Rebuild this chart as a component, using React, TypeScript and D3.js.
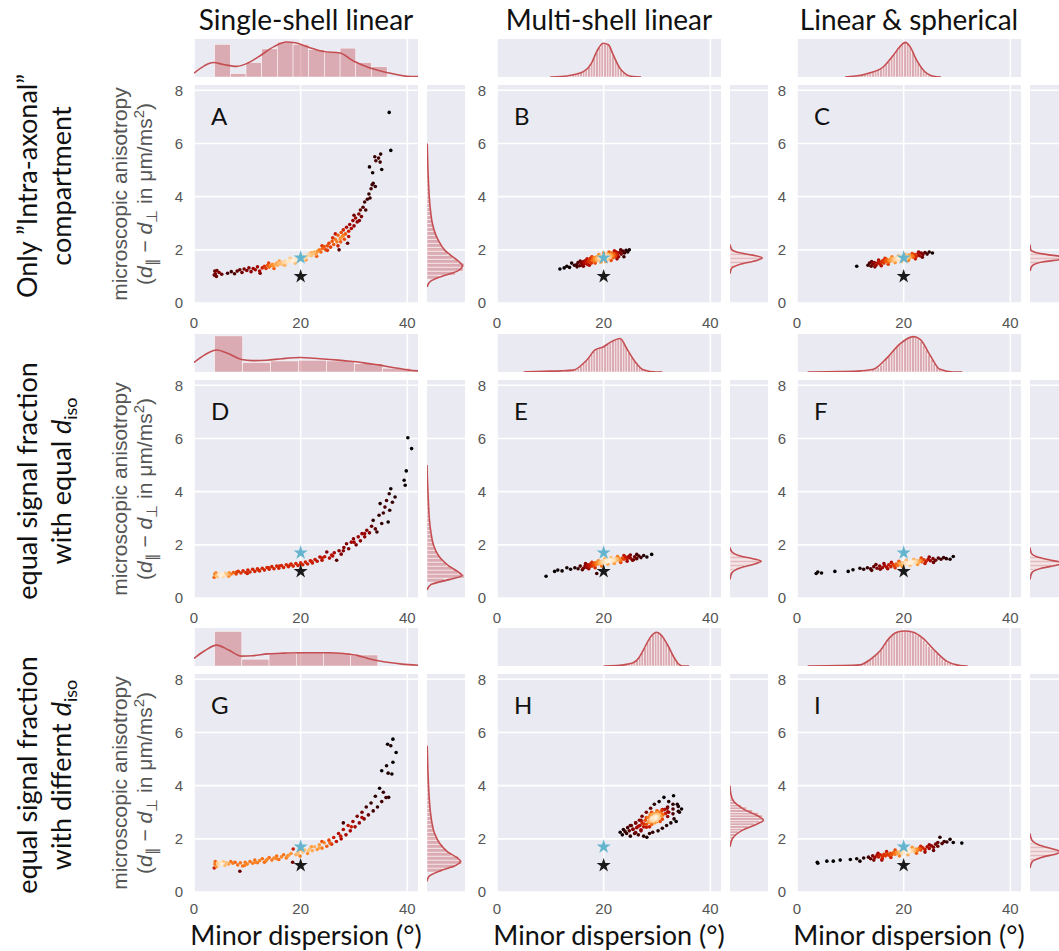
import React, { useRef, useEffect } from "react";
import * as d3 from "d3";

const colTitles = ["Single-shell linear", "Multi-shell linear", "Linear & spherical"];
const panelLetters = ["A", "B", "C", "D", "E", "F", "G", "H", "I"];
const xTicks = [0, 20, 40];
const yTicks = [0, 2, 4, 6, 8];
const blueStar = [20, 1.7];
const blackStar = [20, 1.0];

// scatter clouds (minor dispersion in deg, microscopic anisotropy)
const scatterA = [
  [3.8, 1.05], [3.9, 1.2], [4.0, 1.1], [4.2, 1.0], [4.3, 1.22], [4.7, 1.15], [5.2, 1.08],
  [6.3, 1.12], [7.0, 1.18], [7.6, 1.1], [8.1, 1.2], [8.6, 1.25], [9.0, 1.15], [9.4, 1.28], [9.9, 1.22],
  [10.3, 1.32], [10.7, 1.18], [11.1, 1.3], [11.5, 1.25], [11.9, 1.36], [12.3, 1.2], [12.4, 1.12], [12.8, 1.32],
  [13.2, 1.38], [13.5, 1.3], [13.8, 1.42], [14.1, 1.35], [14.4, 1.4], [14.7, 1.46], [14.9, 1.38], [15.2, 1.44],
  [15.5, 1.5], [15.7, 1.42], [16.0, 1.48], [16.3, 1.54], [16.5, 1.45], [16.8, 1.52], [17.1, 1.58], [17.3, 1.5],
  [17.6, 1.56], [17.9, 1.62], [18.2, 1.55], [18.5, 1.6], [18.8, 1.66], [19.0, 1.58], [19.3, 1.64], [19.6, 1.7],
  [19.9, 1.62], [20.2, 1.7], [20.5, 1.76], [20.8, 1.68], [21.1, 1.74], [21.4, 1.8], [21.7, 1.86], [22.0, 1.78],
  [22.3, 1.85], [22.6, 1.92], [22.9, 1.84], [23.2, 1.95], [23.5, 2.0], [23.8, 1.92], [24.1, 2.05], [24.4, 2.12],
  [24.7, 2.0], [25.0, 2.15], [25.3, 2.25], [25.6, 2.1], [25.9, 2.32], [26.2, 2.2], [26.5, 2.4], [26.8, 2.3],
  [27.0, 2.55], [27.2, 2.0], [27.4, 2.42], [27.6, 2.65], [27.8, 2.5], [28.0, 2.75], [28.2, 2.4], [28.4, 2.6],
  [28.6, 2.85], [28.8, 2.25], [29.0, 2.7], [29.2, 2.95], [29.5, 2.8], [29.8, 3.1], [30.0, 2.9], [30.3, 3.2],
  [30.6, 3.05], [30.9, 3.35], [31.2, 3.5], [31.4, 3.25], [31.7, 3.6], [32.0, 3.8], [32.2, 3.5], [32.5, 3.9],
  [32.8, 4.1], [33.0, 3.95], [33.2, 4.3], [33.4, 4.45], [33.6, 4.5], [34.0, 4.38], [32.9, 5.12], [33.5, 4.9],
  [33.9, 5.5], [34.1, 5.35], [34.6, 5.45], [34.9, 5.3], [35.2, 5.02], [35.0, 5.6], [36.9, 5.74], [36.6, 7.17],
  [14.0, 1.5], [15.0, 1.3], [16.0, 1.58], [17.0, 1.42], [18.0, 1.68], [19.0, 1.5], [20.0, 1.78], [21.0, 1.62],
  [22.0, 1.9], [23.0, 1.76], [24.0, 2.15], [25.0, 1.98], [26.0, 2.45], [27.0, 2.15], [28.0, 2.55], [29.0, 2.5],
  [30.0, 3.3], [31.0, 3.1], [26.5, 2.6], [27.5, 2.3], [17.5, 1.55], [18.5, 1.58], [19.5, 1.65], [20.5, 1.72],
  [21.5, 1.8], [22.5, 1.88],
];
const scatterB = [
  [11.8, 1.28], [12.6, 1.32], [13.1, 1.38], [13.6, 1.34], [14.0, 1.5], [14.5, 1.42], [14.9, 1.44], [15.2, 1.52],
  [15.5, 1.4], [15.8, 1.5], [16.0, 1.42], [16.2, 1.56], [16.4, 1.48], [16.6, 1.6], [16.8, 1.52], [17.0, 1.45],
  [17.2, 1.62], [17.4, 1.55], [17.5, 1.68], [17.7, 1.5], [17.9, 1.6], [18.0, 1.7], [18.2, 1.56], [18.3, 1.64],
  [18.5, 1.72], [18.6, 1.6], [18.8, 1.68], [18.9, 1.76], [19.0, 1.62], [19.2, 1.7], [19.3, 1.66], [19.4, 1.78],
  [19.5, 1.6], [19.6, 1.72], [19.7, 1.68], [19.8, 1.75], [19.9, 1.64], [20.0, 1.7], [20.1, 1.8], [20.2, 1.68],
  [20.3, 1.74], [20.4, 1.62], [20.5, 1.78], [20.6, 1.72], [20.7, 1.84], [20.8, 1.7], [20.9, 1.77], [21.0, 1.66],
  [21.2, 1.82], [21.3, 1.74], [21.5, 1.88], [21.6, 1.78], [21.8, 1.7], [22.0, 1.85], [22.2, 1.76], [22.4, 1.92],
  [22.6, 1.82], [22.8, 1.74], [23.0, 1.9], [23.3, 1.84], [23.6, 1.95], [23.9, 1.88], [24.2, 1.98], [24.5, 1.92],
  [24.8, 2.0],
  [15.0, 1.36], [15.6, 1.58], [16.2, 1.38], [16.9, 1.66], [17.3, 1.42], [17.8, 1.74], [18.4, 1.5], [19.1, 1.82],
  [19.5, 1.54], [20.0, 1.88], [20.4, 1.56], [21.0, 1.92], [21.4, 1.6], [22.0, 1.96], [22.5, 1.66], [23.2, 2.0],
  [23.8, 1.74], [16.5, 1.5], [17.1, 1.56], [17.9, 1.62], [18.7, 1.66], [19.1, 1.68], [19.5, 1.7], [19.9, 1.72],
  [20.3, 1.72], [20.7, 1.76], [21.1, 1.76], [21.5, 1.8], [21.9, 1.8], [22.3, 1.84], [18.3, 1.7], [20.5, 1.7],
  [19.6, 1.64], [21.1, 1.72],
];
const scatterC = [
  [11.2, 1.38], [13.3, 1.42], [13.6, 1.5], [13.9, 1.38], [14.2, 1.46], [14.5, 1.52], [14.8, 1.42], [15.1, 1.5],
  [15.4, 1.56], [15.6, 1.46], [15.9, 1.54], [16.1, 1.6], [16.3, 1.5], [16.6, 1.58], [16.8, 1.64], [17.0, 1.54],
  [17.2, 1.62], [17.4, 1.56], [17.6, 1.66], [17.8, 1.6], [18.0, 1.68], [18.2, 1.58], [18.4, 1.64], [18.6, 1.7],
  [18.8, 1.62], [19.0, 1.68], [19.2, 1.74], [19.4, 1.64], [19.6, 1.7], [19.8, 1.66], [20.0, 1.74], [20.2, 1.68],
  [20.4, 1.76], [20.6, 1.66], [20.8, 1.72], [21.0, 1.8], [21.2, 1.7], [21.5, 1.78], [21.8, 1.72], [22.1, 1.82],
  [22.4, 1.76], [22.7, 1.86], [23.0, 1.78], [23.3, 1.88], [23.6, 1.82], [24.0, 1.9], [24.4, 1.84], [24.8, 1.92],
  [25.4, 1.88],
  [14.0, 1.56], [14.6, 1.36], [15.3, 1.62], [15.8, 1.4], [16.5, 1.68], [17.1, 1.46], [17.8, 1.74], [18.4, 1.52],
  [19.0, 1.78], [19.6, 1.56], [20.3, 1.82], [20.9, 1.6], [21.6, 1.86], [22.2, 1.66], [22.8, 1.92], [23.5, 1.72],
  [17.5, 1.6], [18.1, 1.62], [18.7, 1.66], [19.3, 1.68], [19.9, 1.7], [20.5, 1.72], [21.1, 1.74], [21.7, 1.76],
  [19.5, 1.72], [20.1, 1.64], [18.9, 1.7], [20.7, 1.76],
];
const scatterD = [
  [3.8, 0.78], [3.9, 0.9], [4.0, 0.82], [4.1, 0.95], [4.2, 0.85], [4.4, 0.8], [4.6, 0.88], [4.8, 0.92],
  [5.0, 0.84], [5.3, 0.9], [5.6, 0.86], [5.9, 0.93], [6.2, 0.88], [6.6, 0.95], [7.0, 0.9],
  [7.4, 0.96], [7.9, 0.9], [8.3, 1.0], [8.8, 0.94], [9.2, 1.02], [9.7, 0.96], [10.1, 1.05], [10.5, 0.98],
  [11.0, 1.08], [11.4, 1.0], [11.9, 1.1], [12.3, 1.02], [12.8, 1.12], [13.2, 1.05], [13.7, 1.15], [14.1, 1.08],
  [14.6, 1.18], [15.0, 1.1], [15.5, 1.2], [15.9, 1.12], [16.4, 1.22], [16.8, 1.15], [17.3, 1.25], [17.7, 1.18],
  [18.2, 1.28], [18.6, 1.2], [19.1, 1.3], [19.5, 1.22], [20.0, 1.32], [20.4, 1.25], [20.9, 1.35], [21.3, 1.28],
  [21.8, 1.4], [22.2, 1.32], [22.7, 1.45], [23.1, 1.38], [23.6, 1.54], [24.0, 1.42], [24.5, 1.55], [24.9, 1.73],
  [25.4, 1.5], [25.8, 1.62], [26.3, 1.7], [26.75, 1.42], [27.2, 1.78], [27.6, 1.65], [28.1, 1.9], [28.6, 2.04],
  [29.0, 1.85], [29.5, 2.1], [29.9, 2.23], [30.4, 2.0], [30.8, 2.3], [31.2, 2.15], [31.5, 2.42], [32.0, 2.3],
  [32.4, 2.55], [32.9, 2.45], [33.3, 2.7], [33.6, 2.92], [34.0, 2.6], [34.3, 2.48], [34.7, 3.11], [35.2, 2.8],
  [34.9, 3.55], [35.5, 3.2], [35.8, 3.42], [36.1, 3.67], [36.4, 2.86], [36.7, 3.3], [36.6, 3.92], [36.9, 4.11],
  [37.7, 3.8], [37.2, 3.6], [39.4, 4.43], [39.6, 4.24], [39.8, 4.78], [40.1, 6.03], [40.8, 5.62],
  [5.5, 0.8], [6.5, 0.82], [8.0, 0.98], [10, 0.92], [12, 1.06], [14, 1.14], [16, 1.2], [18, 1.24],
  [20, 1.28], [22, 1.38], [24, 1.5], [26, 1.58], [28, 1.78], [30, 2.1], [32, 2.42],
];
const scatterE = [
  [9.2, 0.82], [10.8, 1.0], [11.4, 1.05], [12.2, 1.02], [13.1, 1.14], [13.8, 1.08], [14.6, 1.14], [15.2, 1.1],
  [15.6, 1.2], [16.2, 1.12], [16.5, 1.2], [16.8, 1.15], [17.0, 1.25], [17.3, 1.18], [17.5, 1.28], [17.8, 1.2],
  [18.0, 1.3], [18.2, 1.22], [18.4, 1.32], [18.6, 1.26], [18.7, 0.92], [18.8, 1.34], [19.0, 1.28], [19.2, 1.36],
  [19.4, 1.3], [19.6, 1.38], [19.8, 1.32], [20.0, 1.4], [20.2, 1.34], [20.4, 1.4], [20.6, 1.36], [20.8, 1.44],
  [21.0, 1.38], [21.2, 1.42], [21.4, 1.36], [21.6, 1.46], [21.8, 1.4], [22.0, 1.44], [22.2, 1.38], [22.4, 1.48],
  [22.6, 1.42], [22.8, 1.5], [23.0, 1.44], [23.2, 1.4], [23.5, 1.5], [23.8, 1.46], [24.1, 1.54], [24.4, 1.48],
  [24.7, 1.56], [25.0, 1.5], [25.4, 1.42], [25.8, 1.55], [26.2, 1.48], [26.6, 1.58], [27.0, 1.52], [27.5, 1.6],
  [28.1, 1.54], [29.0, 1.64],
  [16.0, 1.06], [16.6, 1.3], [17.2, 1.1], [17.8, 1.34], [18.4, 1.14], [19.0, 1.4], [19.6, 1.2], [20.2, 1.48],
  [20.8, 1.26], [21.4, 1.52], [22.0, 1.3], [22.6, 1.56], [23.2, 1.34], [23.8, 1.6], [24.4, 1.38], [25.0, 1.62],
  [25.6, 1.44], [26.2, 1.64], [19.3, 1.33], [19.9, 1.36], [20.5, 1.38], [21.1, 1.4], [21.7, 1.42], [22.3, 1.44],
  [22.9, 1.46], [20.1, 1.4], [21.3, 1.44], [20.7, 1.41], [21.9, 1.46], [22.5, 1.47], [19.7, 1.34],
];
const scatterF = [
  [3.6, 0.92], [3.9, 0.98], [4.6, 0.94], [7.1, 1.0], [9.6, 1.0], [10.5, 1.06], [11.8, 1.12], [12.5, 1.08],
  [13.2, 1.14], [13.8, 1.1], [14.4, 1.18], [15.0, 1.12], [15.5, 1.2], [16.0, 1.14], [16.4, 1.22], [16.8, 1.16],
  [17.2, 1.25], [17.6, 1.18], [18.0, 1.26], [18.3, 1.2], [18.6, 1.28], [18.9, 1.22], [19.2, 1.3], [19.5, 1.24],
  [19.8, 1.32], [20.1, 1.26], [20.4, 1.34], [20.7, 1.28], [21.0, 1.32], [21.3, 1.36], [21.6, 1.3], [21.9, 1.38],
  [22.2, 1.32], [22.5, 1.4], [22.8, 1.34], [23.1, 1.42], [23.4, 1.36], [23.8, 1.44], [24.2, 1.38], [24.6, 1.46],
  [25.0, 1.4], [25.5, 1.48], [26.0, 1.42], [26.5, 1.5], [27.0, 1.46], [27.5, 1.52], [28.0, 1.48], [28.7, 1.46],
  [29.3, 1.56],
  [14.0, 1.04], [14.8, 1.26], [15.6, 1.08], [16.3, 1.3], [17.0, 1.1], [17.7, 1.34], [18.4, 1.14], [19.1, 1.38],
  [19.8, 1.18], [20.5, 1.42], [21.2, 1.22], [21.9, 1.46], [22.6, 1.26], [23.3, 1.5], [24.0, 1.3], [24.8, 1.54],
  [25.6, 1.34], [19.4, 1.28], [20.0, 1.3], [20.6, 1.31], [21.2, 1.33], [21.8, 1.35], [22.4, 1.36], [23.0, 1.38],
  [20.3, 1.3], [21.5, 1.34], [22.1, 1.35],
];
const scatterG = [
  [3.8, 0.9], [3.9, 1.05], [4.0, 1.15], [4.2, 0.95], [4.4, 1.1], [4.6, 1.0], [4.9, 1.12], [5.2, 1.05],
  [5.5, 1.15], [5.8, 1.0], [6.1, 1.1], [6.5, 1.05], [6.9, 1.15], [7.3, 1.08], [7.7, 1.12], [8.6, 0.78],
  [8.2, 1.02], [8.7, 1.1], [9.1, 0.98], [9.6, 1.12], [10.0, 1.05], [10.5, 1.15], [11.0, 1.08], [11.4, 1.2],
  [11.9, 1.1], [12.3, 1.18], [12.8, 1.25], [13.2, 1.12], [13.7, 1.22], [14.1, 1.3], [14.6, 1.2], [15.0, 1.28],
  [15.5, 1.35], [15.9, 1.22], [16.4, 1.32], [16.8, 1.4], [17.3, 1.28], [17.7, 1.38], [18.2, 1.45], [18.5, 1.12],
  [18.6, 1.62], [19.1, 1.4], [19.5, 1.5], [19.9, 1.35], [20.4, 1.5], [20.8, 1.58], [21.3, 1.45], [21.7, 1.62],
  [22.2, 1.55], [22.6, 1.7], [23.1, 1.6], [23.5, 1.78], [24.0, 1.65], [24.4, 1.85], [24.9, 1.72], [25.3, 1.95],
  [25.8, 1.8], [26.2, 2.05], [26.7, 1.9], [27.1, 2.2], [27.6, 2.0], [28.0, 2.35], [28.5, 2.15], [28.9, 2.5],
  [28.0, 2.6], [29.3, 2.3], [29.8, 2.65], [30.2, 2.45], [30.6, 2.85], [31.0, 2.6], [31.5, 3.0], [31.9, 2.75],
  [32.3, 3.2], [32.7, 2.9], [33.2, 3.35], [33.6, 3.05], [34.0, 3.6], [34.4, 3.2], [34.8, 3.9], [35.2, 3.4],
  [35.5, 3.75], [36.0, 3.55], [36.3, 5.56], [37.3, 5.75], [37.9, 5.25], [36.9, 5.5], [35.2, 4.56], [36.1, 4.75],
  [37.3, 4.88], [36.4, 4.47], [37.1, 4.44], [36.5, 3.56],
  [9.5, 1.0], [11.5, 1.12], [13.5, 1.18], [15.5, 1.25], [17.5, 1.34], [19.5, 1.42], [21.5, 1.55], [23.5, 1.66],
  [25.5, 1.84], [27.5, 2.1], [29.5, 2.45], [31.5, 2.8], [20, 1.6], [22, 1.7], [24, 1.9],
];
const scatterH = [
  [23.1, 2.25], [23.5, 2.15], [23.7, 2.35], [24.0, 2.28], [24.3, 2.2], [24.5, 2.42], [24.8, 2.3], [25.0, 2.1],
  [25.2, 2.5], [25.5, 2.35], [25.8, 2.2], [26.0, 2.6], [26.2, 2.42], [26.5, 2.15], [26.7, 2.7], [27.0, 2.3],
  [27.2, 2.85], [27.5, 2.1], [28.1, 2.06], [28.0, 3.0], [28.6, 2.2], [28.8, 3.15], [29.2, 2.25], [29.5, 3.3],
  [30.2, 2.3], [30.4, 3.4], [31.0, 2.4], [31.3, 3.56], [31.8, 2.5], [32.2, 3.4], [32.6, 2.6], [33.1, 3.62],
  [33.2, 2.75], [33.6, 2.65], [33.8, 3.3], [34.2, 3.0], [34.6, 3.12],
  [26.8, 2.5], [27.2, 2.6], [27.5, 2.45], [27.8, 2.7], [28.0, 2.55], [28.3, 2.8], [28.5, 2.62], [28.7, 2.9],
  [28.9, 2.7], [29.1, 2.8], [29.3, 2.65], [29.4, 2.95], [29.6, 2.78], [29.8, 2.85], [29.9, 2.7], [30.1, 2.92],
  [30.3, 2.78], [30.5, 3.0], [30.7, 2.85], [30.9, 3.05], [31.1, 2.9], [31.4, 3.1], [31.6, 2.95], [31.9, 3.15],
  [32.2, 3.0], [29.5, 2.6], [30.0, 3.05], [28.6, 2.45], [30.6, 2.65], [29.0, 3.0],
  [25.5, 2.37], [26.5, 2.47], [27.5, 2.57], [28.5, 2.67], [29.0, 2.72], [30.0, 2.82], [31.0, 2.92], [32.0, 3.02],
  [33.0, 3.12], [34.0, 3.22], [25.0, 2.5], [26.0, 2.6], [27.0, 2.7], [28.0, 2.8], [29.0, 2.9], [30.0, 3.0],
  [31.0, 3.1], [32.0, 3.2], [33.0, 3.3], [26.0, 2.24], [27.0, 2.34], [28.0, 2.44], [29.0, 2.54], [30.0, 2.64],
  [31.0, 2.74], [32.0, 2.84], [33.0, 2.94], [34.0, 3.04], [29.2, 2.75], [29.7, 2.8], [30.2, 2.85], [29.4, 2.7],
  [29.9, 2.76], [30.4, 2.9], [28.8, 2.66], [29.5, 2.86], [30.0, 2.7],
];
const scatterI = [
  [3.8, 1.12], [3.9, 1.08], [5.6, 1.16], [6.8, 1.16], [8.1, 1.2], [10.0, 1.22], [11.2, 1.25], [11.8, 1.16],
  [12.5, 1.28], [13.4, 1.31], [13.8, 1.25], [14.2, 1.36], [14.6, 1.3], [15.0, 1.38], [15.3, 1.32], [15.6, 1.4],
  [15.9, 1.2], [16.0, 1.34], [16.3, 1.42], [16.6, 1.36], [16.9, 1.44], [17.2, 1.38], [17.5, 1.46], [17.8, 1.4],
  [18.1, 1.48], [18.4, 1.42], [18.7, 1.5], [19.0, 1.44], [19.3, 1.52], [19.6, 1.46], [19.9, 1.54], [20.2, 1.48],
  [20.5, 1.56], [20.8, 1.5], [21.1, 1.58], [21.4, 1.52], [21.7, 1.6], [22.0, 1.54], [22.3, 1.62], [22.6, 1.56],
  [22.9, 1.64], [23.2, 1.58], [23.6, 1.66], [24.0, 1.6], [24.4, 1.7], [24.8, 1.64], [25.2, 1.74], [25.6, 1.68],
  [26.0, 1.8], [26.4, 1.72], [26.8, 2.06], [27.2, 1.82], [27.6, 1.9], [28.1, 1.88], [28.7, 1.98], [29.3, 1.86],
  [30.9, 1.84],
  [14.4, 1.2], [15.2, 1.46], [16.0, 1.26], [16.8, 1.52], [17.6, 1.3], [18.4, 1.58], [19.2, 1.36], [20.0, 1.62],
  [20.8, 1.4], [21.6, 1.68], [22.4, 1.46], [23.2, 1.72], [24.0, 1.5], [24.8, 1.78], [25.6, 1.56], [26.4, 1.86],
  [19.6, 1.5], [20.2, 1.52], [20.8, 1.54], [21.4, 1.56], [22.0, 1.58], [22.6, 1.6], [19.9, 1.5], [21.1, 1.54],
  [20.5, 1.52], [18.9, 1.46],
];

// top marginals: kde curve [x, relative height] and histogram bins
const topKdeA = [[0, 0.1], [2, 0.3], [3.6, 0.38], [5.5, 0.33], [8, 0.28], [10, 0.36], [12.4, 0.56], [15, 0.8], [17.3, 0.92], [19, 0.9], [21.1, 0.8], [24.3, 0.67], [27.4, 0.63], [29.9, 0.42], [32.4, 0.27], [36.1, 0.12], [39.9, 0.02], [42, 0.01]];
const topKdeB = [[10, 0], [12, 0.01], [14.3, 0.06], [16.2, 0.14], [17.7, 0.36], [18.7, 0.67], [19.9, 0.89], [20.9, 0.85], [21.8, 0.58], [23.1, 0.22], [24.2, 0.07], [25.5, 0.01], [27, 0]];
const topKdeC = [[9, 0], [10.6, 0.02], [12.2, 0.05], [13.7, 0.11], [16.2, 0.27], [18.1, 0.58], [19.3, 0.8], [20.3, 0.91], [21.2, 0.8], [22.4, 0.45], [23.7, 0.18], [25.6, 0.02], [27, 0]];
const topKdeD = [[0, 0.25], [2, 0.45], [4.25, 0.58], [6.5, 0.48], [8.9, 0.33], [11, 0.3], [13.6, 0.31], [16.5, 0.35], [19.9, 0.38], [22.5, 0.36], [25.5, 0.33], [28, 0.3], [30.5, 0.27], [32.8, 0.22], [34.9, 0.18], [36.8, 0.13], [38.6, 0.09], [40.3, 0.05], [42, 0.03]];
const topKdeE = [[5, 0], [8.7, 0.02], [12, 0.03], [14.3, 0.05], [16.8, 0.31], [18.4, 0.58], [19.9, 0.66], [21.5, 0.8], [23.1, 0.88], [24.3, 0.62], [25.9, 0.27], [27.4, 0.06], [29.9, 0], [31, 0]];
const topKdeF = [[2, 0], [8, 0.01], [12, 0.03], [14.3, 0.07], [16.8, 0.36], [19.3, 0.74], [21.8, 0.93], [23.1, 0.86], [25, 0.43], [26.8, 0.07], [29.3, 0], [31, 0]];
const topKdeG = [[0, 0.2], [2, 0.4], [4.25, 0.55], [6.5, 0.42], [8.9, 0.26], [11, 0.27], [13.8, 0.32], [16.8, 0.34], [19.9, 0.35], [23, 0.35], [25.5, 0.35], [28, 0.33], [30.6, 0.28], [32.6, 0.2], [34.8, 0.13], [36.6, 0.09], [39, 0.05], [42, 0.02]];
const topKdeH = [[20, 0], [22.4, 0.01], [24.5, 0.05], [25.6, 0.09], [26.5, 0.2], [27.4, 0.41], [28.3, 0.65], [29, 0.8], [29.9, 0.89], [30.6, 0.84], [31.2, 0.74], [32.2, 0.5], [33.1, 0.25], [34, 0.06], [34.8, 0], [36, 0]];
const topKdeI = [[2, 0], [8, 0.01], [11.8, 0.03], [13.7, 0.17], [15.6, 0.4], [17.2, 0.72], [18.7, 0.89], [20.2, 0.92], [21.8, 0.89], [23.7, 0.72], [25.6, 0.44], [28.1, 0.12], [30.6, 0.01], [32, 0]];

const topHistA = { start: 3.87, step: 2.94, heights: [0.86, 0.09, 0.38, 0.74, 0.92, 0.86, 0.72, 0.64, 0.76, 0.38, 0.27] };
const topHistB = { start: 12, step: 0.5, heights: [0.01, 0.02, 0.03, 0.04, 0.06, 0.08, 0.1, 0.12, 0.15, 0.2, 0.27, 0.36, 0.5, 0.66, 0.78, 0.88, 0.9, 0.86, 0.78, 0.6, 0.46, 0.32, 0.22, 0.12, 0.07, 0.03] };
const topHistC = { start: 12, step: 0.5, heights: [0.05, 0.07, 0.09, 0.11, 0.13, 0.16, 0.19, 0.23, 0.27, 0.33, 0.41, 0.5, 0.6, 0.7, 0.8, 0.87, 0.91, 0.88, 0.8, 0.66, 0.52, 0.38, 0.27, 0.17, 0.1, 0.05, 0.03] };
const topHistD = { start: 3.87, step: 5.25, heights: [0.95, 0.25, 0.29, 0.31, 0.29, 0.22, 0.1] };
const topHistE = { start: 12, step: 0.5, heights: [0.03, 0.03, 0.04, 0.04, 0.05, 0.07, 0.1, 0.15, 0.22, 0.3, 0.38, 0.46, 0.54, 0.6, 0.63, 0.66, 0.68, 0.72, 0.76, 0.8, 0.84, 0.87, 0.88, 0.8, 0.68, 0.52, 0.4, 0.3, 0.2, 0.12, 0.07, 0.04, 0.02, 0.01] };
const topHistF = { start: 12, step: 0.5, heights: [0.02, 0.03, 0.04, 0.05, 0.06, 0.08, 0.12, 0.18, 0.26, 0.36, 0.44, 0.52, 0.6, 0.67, 0.74, 0.8, 0.85, 0.89, 0.92, 0.94, 0.92, 0.87, 0.8, 0.7, 0.58, 0.46, 0.34, 0.22, 0.14, 0.07, 0.03, 0.01] };
const topHistG = { start: 3.87, step: 5.1, heights: [0.91, 0.18, 0.33, 0.35, 0.35, 0.29] };
const topHistH = { start: 23, step: 0.5, heights: [0.02, 0.03, 0.04, 0.06, 0.08, 0.11, 0.17, 0.26, 0.37, 0.48, 0.62, 0.72, 0.82, 0.88, 0.9, 0.82, 0.76, 0.62, 0.5, 0.36, 0.24, 0.12, 0.06, 0.02] };
const topHistI = { start: 12, step: 0.5, heights: [0.05, 0.08, 0.12, 0.17, 0.22, 0.28, 0.34, 0.42, 0.52, 0.62, 0.72, 0.8, 0.86, 0.9, 0.92, 0.93, 0.93, 0.92, 0.9, 0.88, 0.84, 0.8, 0.74, 0.68, 0.6, 0.52, 0.46, 0.4, 0.32, 0.25, 0.18, 0.13, 0.09, 0.06, 0.03, 0.02] };

// right marginals: kde curve [anisotropy, relative width] and histogram bins
const rightKdeA = [[0.6, 0], [0.8, 0.08], [1.0, 0.38], [1.2, 0.8], [1.4, 0.93], [1.6, 0.8], [1.8, 0.62], [2.0, 0.46], [2.3, 0.32], [2.6, 0.22], [3.0, 0.14], [3.5, 0.09], [4.0, 0.06], [4.5, 0.04], [5.0, 0.025], [5.5, 0.015], [6.0, 0.005]];
const rightKdeB = [[1.1, 0], [1.3, 0.04], [1.45, 0.25], [1.6, 0.7], [1.7, 0.85], [1.8, 0.6], [1.9, 0.22], [2.0, 0.05], [2.2, 0]];
const rightKdeC = [[1.2, 0], [1.4, 0.06], [1.55, 0.35], [1.65, 0.85], [1.72, 0.95], [1.8, 0.55], [1.9, 0.15], [2.0, 0.02], [2.2, 0]];
const rightKdeD = [[0.3, 0], [0.5, 0.1], [0.7, 0.6], [0.85, 0.92], [1.0, 0.8], [1.2, 0.58], [1.4, 0.42], [1.6, 0.3], [2.0, 0.17], [2.5, 0.1], [3.0, 0.06], [3.5, 0.04], [4.0, 0.025], [4.5, 0.01], [5.0, 0]];
const rightKdeE = [[0.7, 0], [0.95, 0.05], [1.15, 0.3], [1.28, 0.65], [1.38, 0.82], [1.48, 0.6], [1.6, 0.22], [1.75, 0.04], [1.9, 0]];
const rightKdeF = [[0.7, 0], [0.95, 0.05], [1.12, 0.3], [1.25, 0.75], [1.32, 0.85], [1.42, 0.55], [1.55, 0.18], [1.7, 0.03], [1.9, 0]];
const rightKdeG = [[0.4, 0], [0.6, 0.06], [0.8, 0.35], [1.0, 0.75], [1.15, 0.88], [1.3, 0.78], [1.5, 0.55], [1.8, 0.35], [2.2, 0.2], [2.6, 0.13], [3.0, 0.09], [3.5, 0.06], [4.0, 0.04], [4.5, 0.025], [5.0, 0.015], [5.5, 0.005]];
const rightKdeH = [[1.7, 0], [2.0, 0.06], [2.3, 0.3], [2.55, 0.7], [2.7, 0.88], [2.85, 0.75], [3.1, 0.38], [3.4, 0.1], [3.7, 0.02], [4.0, 0]];
const rightKdeI = [[0.9, 0], [1.15, 0.06], [1.3, 0.3], [1.45, 0.72], [1.52, 0.8], [1.62, 0.6], [1.78, 0.22], [1.95, 0.05], [2.2, 0]];

const rightHistA = { start: 0.9, step: 0.15, heights: [0.3, 0.75, 0.95, 0.98, 0.82, 0.68, 0.55, 0.45, 0.38, 0.32, 0.26, 0.22, 0.18, 0.15, 0.13, 0.11, 0.1, 0.09, 0.08, 0.07, 0.06, 0.05, 0.05, 0.04, 0.04, 0.03, 0.03, 0.03, 0.02, 0.02, 0.02, 0.01, 0.01] };
const rightHistB = { start: 1.25, step: 0.05, heights: [0.02, 0.04, 0.08, 0.14, 0.24, 0.38, 0.54, 0.7, 0.82, 0.86, 0.74, 0.5, 0.28, 0.12, 0.05, 0.02] };
const rightHistC = { start: 1.3, step: 0.05, heights: [0.03, 0.06, 0.12, 0.22, 0.38, 0.58, 0.78, 0.92, 0.96, 0.82, 0.56, 0.3, 0.14, 0.06, 0.02] };
const rightHistD = { start: 0.6, step: 0.15, heights: [0.45, 0.98, 0.82, 0.66, 0.52, 0.4, 0.33, 0.26, 0.21, 0.17, 0.14, 0.12, 0.1, 0.09, 0.07, 0.06, 0.05, 0.05, 0.04, 0.04, 0.03, 0.03, 0.02, 0.02] };
const rightHistE = { start: 0.95, step: 0.05, heights: [0.03, 0.05, 0.08, 0.14, 0.24, 0.38, 0.55, 0.7, 0.8, 0.82, 0.7, 0.5, 0.3, 0.15, 0.06, 0.02] };
const rightHistF = { start: 1.0, step: 0.05, heights: [0.04, 0.1, 0.2, 0.36, 0.56, 0.74, 0.85, 0.84, 0.66, 0.44, 0.24, 0.1, 0.04, 0.02] };
const rightHistG = { start: 0.75, step: 0.15, heights: [0.4, 0.72, 0.92, 0.84, 0.64, 0.5, 0.42, 0.33, 0.27, 0.22, 0.18, 0.15, 0.13, 0.11, 0.1, 0.09, 0.08, 0.07, 0.06, 0.05, 0.05, 0.04, 0.04, 0.03, 0.03, 0.03, 0.02, 0.02, 0.02, 0.01, 0.01, 0.01, 0.01] };
const rightHistH = { start: 1.9, step: 0.1, heights: [0.04, 0.08, 0.14, 0.22, 0.34, 0.48, 0.64, 0.78, 0.88, 0.86, 0.76, 0.6, 0.44, 0.3, 0.18, 0.1, 0.05, 0.02] };
const rightHistI = { start: 1.1, step: 0.05, heights: [0.04, 0.07, 0.12, 0.2, 0.32, 0.46, 0.62, 0.74, 0.8, 0.76, 0.62, 0.44, 0.28, 0.16, 0.08, 0.04, 0.02] };

const panels = [
  { scatter: scatterA, topKde: topKdeA, topHist: topHistA, rightKde: rightKdeA, rightHist: rightHistA },
  { scatter: scatterB, topKde: topKdeB, topHist: topHistB, rightKde: rightKdeB, rightHist: rightHistB },
  { scatter: scatterC, topKde: topKdeC, topHist: topHistC, rightKde: rightKdeC, rightHist: rightHistC },
  { scatter: scatterD, topKde: topKdeD, topHist: topHistD, rightKde: rightKdeD, rightHist: rightHistD },
  { scatter: scatterE, topKde: topKdeE, topHist: topHistE, rightKde: rightKdeE, rightHist: rightHistE },
  { scatter: scatterF, topKde: topKdeF, topHist: topHistF, rightKde: rightKdeF, rightHist: rightHistF },
  { scatter: scatterG, topKde: topKdeG, topHist: topHistG, rightKde: rightKdeG, rightHist: rightHistG },
  { scatter: scatterH, topKde: topKdeH, topHist: topHistH, rightKde: rightKdeH, rightHist: rightHistH },
  { scatter: scatterI, topKde: topKdeI, topHist: topHistI, rightKde: rightKdeI, rightHist: rightHistI },
];

const BG = "#EAEAF2";
const RED = "#C44E52";
const TICK = "#555";
const SANS = "Lato, 'Open Sans', sans-serif";
const ARIAL = "'Liberation Sans', Arial, sans-serif";

const heat = d3.interpolateRgbBasis(["#000000", "#5a0000", "#b00000", "#e83a00", "#ff8a1a", "#ffc37a", "#fff1dc"]);

const App = () => {
  const svgRef = useRef<SVGSVGElement>(null);

  useEffect(() => {
    const svg = d3.select(svgRef.current);
    svg.selectAll("*").remove();

    const W = 224, H = 218, MG = 38, GAP = 8;
    const colX = [194, 497, 797];
    const rowY = [85, 380, 674];

    const x = d3.scaleLinear().domain([0, 42]).range([0, W]);
    const y = d3.scaleLinear().domain([0, 8.2]).range([H, 0]);
    const dTop = d3.scaleLinear().domain([0, 1]).range([MG, 0]);
    const dRight = d3.scaleLinear().domain([0, 1]).range([0, MG]);

    const defs = svg.append("defs");

    panels.forEach((p, i) => {
      const col = i % 3;
      const row = Math.floor(i / 3);
      const ox = colX[col];
      const oy = rowY[row];

      // main joint axes
      const g = svg.append("g").attr("transform", `translate(${ox},${oy})`);
      g.append("rect").attr("width", W).attr("height", H).attr("fill", BG);
      g.selectAll(".gx").data(xTicks).enter().append("line")
        .attr("x1", (d) => x(d)).attr("x2", (d) => x(d)).attr("y1", 0).attr("y2", H)
        .attr("stroke", "#fff").attr("stroke-width", 1.6);
      g.selectAll(".gy").data(yTicks).enter().append("line")
        .attr("x1", 0).attr("x2", W).attr("y1", (d) => y(d)).attr("y2", (d) => y(d))
        .attr("stroke", "#fff").attr("stroke-width", 1.6);

      // tick labels
      g.selectAll(".tx").data(xTicks).enter().append("text")
        .attr("x", (d) => x(d)).attr("y", row === 2 ? H + 22 : H + 25)
        .attr("text-anchor", "middle").attr("font-family", ARIAL).attr("font-size", 15).attr("fill", TICK)
        .text((d) => d);
      g.selectAll(".ty").data(yTicks).enter().append("text")
        .attr("x", -11).attr("y", (d) => y(d)).attr("dy", "0.36em")
        .attr("text-anchor", "end").attr("font-family", ARIAL).attr("font-size", 15).attr("fill", TICK)
        .text((d) => d);

      // points coloured by local density
      const pts = p.scatter.map(([a, b]) => ({ px: x(a), py: y(b), dens: 0 }));
      const sigma = 6;
      pts.forEach((q) => {
        q.dens = d3.sum(pts, (r) => Math.exp(-((q.px - r.px) ** 2 + (q.py - r.py) ** 2) / (2 * sigma * sigma)));
      });
      const [lo, hi] = d3.extent(pts, (q) => q.dens) as [number, number];
      const color = (v: number) => heat(Math.pow((v - lo) / (hi - lo), 1.5));
      pts.sort((a, b) => a.dens - b.dens);
      g.selectAll(".pt").data(pts).enter().append("circle")
        .attr("cx", (d) => d.px).attr("cy", (d) => d.py).attr("r", 1.8)
        .attr("fill", (d) => color(d.dens));

      // reference stars
      const star = d3.symbol().type(d3.symbolStar).size(62)();
      g.append("path").attr("d", star)
        .attr("transform", `translate(${x(blackStar[0])},${y(blackStar[1])})`).attr("fill", "#1a1a1a");
      g.append("path").attr("d", star)
        .attr("transform", `translate(${x(blueStar[0])},${y(blueStar[1])})`).attr("fill", "#64B5CD");

      g.append("text").attr("x", 17).attr("y", 40)
        .attr("font-family", SANS).attr("font-size", 24).attr("fill", "#111")
        .text(panelLetters[i]);

      // top marginal
      const topId = `clipTop${i}`;
      defs.append("clipPath").attr("id", topId).append("rect").attr("width", W).attr("height", MG);
      const gt = svg.append("g").attr("transform", `translate(${ox},${oy - GAP - MG})`);
      gt.append("rect").attr("width", W).attr("height", MG).attr("fill", BG);
      gt.selectAll(".gx").data(xTicks).enter().append("line")
        .attr("x1", (d) => x(d)).attr("x2", (d) => x(d)).attr("y1", 0).attr("y2", MG)
        .attr("stroke", "#fff").attr("stroke-width", 1.6);
      const th = p.topHist;
      const gtc = gt.append("g").attr("clip-path", `url(#${topId})`);
      gtc.selectAll(".bar").data(th.heights).enter().append("rect")
        .attr("x", (d, k) => x(th.start + k * th.step))
        .attr("width", x(th.step) - x(0))
        .attr("y", (d) => dTop(d)).attr("height", (d) => MG - dTop(d))
        .attr("fill", RED).attr("fill-opacity", 0.4).attr("stroke", "#fff").attr("stroke-width", 0.5);
      gtc.append("path").datum(p.topKde)
        .attr("d", d3.line<number[]>().x((d) => x(d[0])).y((d) => dTop(d[1])).curve(d3.curveMonotoneX))
        .attr("fill", "none").attr("stroke", RED).attr("stroke-width", 1.6);

      // right marginal
      const rightId = `clipRight${i}`;
      defs.append("clipPath").attr("id", rightId).append("rect").attr("width", MG).attr("height", H);
      const gr = svg.append("g").attr("transform", `translate(${ox + W + GAP + 1},${oy})`);
      gr.append("rect").attr("width", MG).attr("height", H).attr("fill", BG);
      gr.selectAll(".gy").data(yTicks).enter().append("line")
        .attr("x1", 0).attr("x2", MG).attr("y1", (d) => y(d)).attr("y2", (d) => y(d))
        .attr("stroke", "#fff").attr("stroke-width", 1.6);
      const rh = p.rightHist;
      const grc = gr.append("g").attr("clip-path", `url(#${rightId})`);
      grc.selectAll(".bar").data(rh.heights).enter().append("rect")
        .attr("x", 0).attr("width", (d) => dRight(d))
        .attr("y", (d, k) => y(rh.start + (k + 1) * rh.step))
        .attr("height", y(0) - y(rh.step))
        .attr("fill", RED).attr("fill-opacity", 0.4).attr("stroke", "#fff").attr("stroke-width", 0.5);
      grc.append("path").datum(p.rightKde)
        .attr("d", d3.line<number[]>().x((d) => dRight(d[1])).y((d) => y(d[0])).curve(d3.curveMonotoneY))
        .attr("fill", "none").attr("stroke", RED).attr("stroke-width", 1.6);
    });

    // column titles
    colTitles.forEach((t, c) => {
      svg.append("text").attr("x", colX[c] + W / 2).attr("y", 30)
        .attr("text-anchor", "middle").attr("font-family", SANS).attr("font-size", 28).attr("fill", "#111")
        .text(t);
    });

    // row labels
    const rowLabel = (row: number, line1: string, line2: string, iso: boolean) => {
      const cy = rowY[row] + H / 2 - 8;
      svg.append("text").attr("transform", `translate(37,${cy}) rotate(-90)`)
        .attr("text-anchor", "middle").attr("font-family", SANS).attr("font-size", 27).attr("fill", "#111")
        .text(line1);
      const t2 = svg.append("text").attr("transform", `translate(71,${cy}) rotate(-90)`)
        .attr("text-anchor", "middle").attr("font-family", SANS).attr("font-size", 27).attr("fill", "#111");
      t2.append("tspan").text(line2);
      if (iso) {
        t2.append("tspan").attr("font-style", "italic").text("d");
        t2.append("tspan").attr("font-size", 18).attr("dy", 6).text("iso");
      }
    };
    rowLabel(0, "Only \u201DIntra-axonal\u201D", "compartment", false);
    rowLabel(1, "equal signal fraction", "with equal ", true);
    rowLabel(2, "equal signal fraction", "with differnt ", true);

    // y axis labels
    rowY.forEach((oy) => {
      const cy = oy + H / 2;
      svg.append("text").attr("transform", `translate(127,${cy}) rotate(-90)`)
        .attr("text-anchor", "middle").attr("font-family", ARIAL).attr("font-size", 21).attr("fill", TICK)
        .text("microscopic anisotropy");
      const t = svg.append("text").attr("transform", `translate(152,${cy}) rotate(-90)`)
        .attr("text-anchor", "middle").attr("font-family", ARIAL).attr("font-size", 21).attr("fill", TICK);
      t.append("tspan").text("(");
      t.append("tspan").attr("font-style", "italic").text("d");
      t.append("tspan").attr("font-size", 15).attr("dy", 5).text("\u2225");
      t.append("tspan").attr("dy", -5).text(" \u2212 ");
      t.append("tspan").attr("font-style", "italic").text("d");
      t.append("tspan").attr("font-size", 15).attr("dy", 5).text("\u22A5");
      t.append("tspan").attr("dy", -5).text(" in \u03BCm/ms");
      t.append("tspan").attr("font-size", 15).attr("dy", -8).text("2");
      t.append("tspan").attr("dy", 8).text(")");
    });

    // x axis labels
    colX.forEach((ox) => {
      svg.append("text").attr("x", ox + W / 2).attr("y", 945)
        .attr("text-anchor", "middle").attr("font-family", SANS).attr("font-size", 27).attr("fill", "#111")
        .text("Minor dispersion (\u00B0)");
    });
  }, []);

  return (
    <svg ref={svgRef} width={1059} height={951}
      style={{ position: "absolute", left: 0, top: 0, background: "#fff" }} />
  );
};

export default App;
